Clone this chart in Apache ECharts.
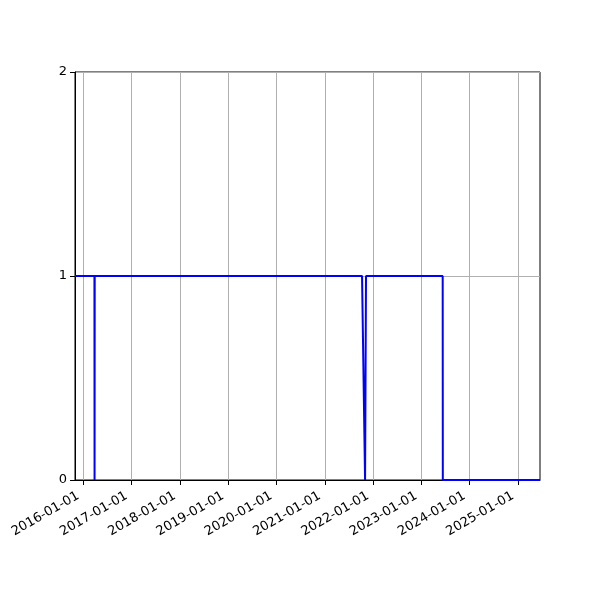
<!DOCTYPE html>
<html>
<head>
<meta charset="utf-8">
<script src="https://cdn.jsdelivr.net/npm/echarts@6/dist/echarts.min.js"></script>
<style>
  html, body { margin: 0; padding: 0; background: #fff; }
  #chart { width: 600px; height: 600px; }
</style>
</head>
<body>
<div id="chart"></div>
<script>
// data
var dates = ['2015-10-30', '2016-03-25', '2016-03-26', '2016-03-27', '2021-10-09',
             '2021-11-01', '2021-11-08', '2023-06-11', '2023-06-12', '2025-06-16'];
var values = [1, 1, 0, 1, 1, 0, 1, 1, 0, 0];
var tickLabels = ['2016-01-01', '2017-01-01', '2018-01-01', '2019-01-01', '2020-01-01',
                  '2021-01-01', '2022-01-01', '2023-01-01', '2024-01-01', '2025-01-01'];
var yTicks = [0, 1, 2];

function ts(s) {
  var p = s.split('-');
  return Date.UTC(+p[0], +p[1] - 1, +p[2]);
}

var points = dates.map(function (d, i) { return [ts(d), values[i]]; });
var tickValues = tickLabels.map(ts);

var dom = document.getElementById('chart');
var myChart = echarts.init(dom, null, { renderer: 'canvas' });

var font = 'DejaVu Sans';

var option = {
  animation: false,
  grid: {
    left: 75, right: 60, top: 72, bottom: 120,
    show: true,
    borderColor: '#000',
    borderWidth: 1,
    containLabel: false
  },
  xAxis: {
    type: 'value',
    min: points[0][0],
    max: points[points.length - 1][0],
    axisLine: { show: true, lineStyle: { color: '#000', width: 1 } },
    axisTick: { show: true, length: 5, lineStyle: { color: '#000' }, customValues: tickValues },
    axisLabel: {
      customValues: tickValues,
      rotate: 30,
      color: '#000',
      fontFamily: font,
      fontSize: 13,
      margin: 12,
      padding: [0, 6, 0, 0],
      formatter: function (v) {
        return new Date(v).toISOString().slice(0, 10);
      }
    },
    splitLine: { show: true, lineStyle: { color: '#b0b0b0', width: 1 } }
  },
  yAxis: {
    type: 'value',
    min: yTicks[0],
    max: yTicks[yTicks.length - 1],
    interval: 1,
    axisLine: { show: true, lineStyle: { color: '#000', width: 1 } },
    axisTick: { show: true, length: 5, lineStyle: { color: '#000' } },
    axisLabel: { color: '#000', fontFamily: font, fontSize: 13, margin: 8 },
    splitLine: { show: true, lineStyle: { color: '#b0b0b0', width: 1 } }
  },
  series: [{
    type: 'line',
    data: points,
    showSymbol: false,
    lineStyle: { color: '#0000ff', width: 2 },
    itemStyle: { color: '#0000ff' }
  }]
};

myChart.setOption(option);
window.addEventListener('resize', myChart.resize);
</script>
</body>
</html>
